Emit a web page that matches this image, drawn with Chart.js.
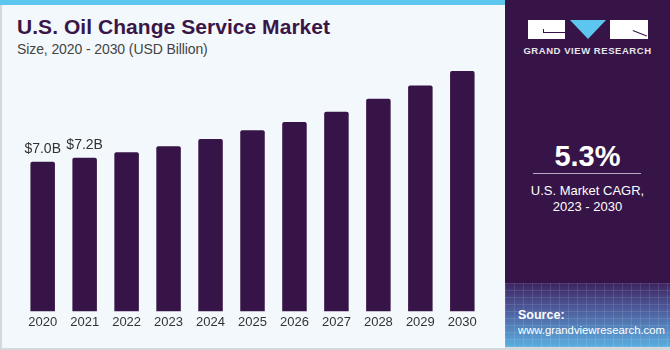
<!DOCTYPE html>
<html>
<head>
<meta charset="utf-8">
<script src="https://cdn.jsdelivr.net/npm/chart.js@4/dist/chart.umd.min.js"></script>
<style>
  html, body { margin:0; padding:0; }
  body { width:670px; height:350px; position:relative; overflow:hidden; background:#f3f8fc; font-family:"Liberation Sans", Arial, sans-serif; }
  #left { position:absolute; left:0; top:0; width:505px; height:350px; background:#f3f8fc; border-left:2px solid #d4d8dc; border-bottom:2px solid #d4d8dc; box-sizing:border-box; }
  #topbar { position:absolute; left:0; top:0; width:505px; height:5px; background:#5cc6ef; }
  #title { position:absolute; left:17px; top:15px; font-size:21px; font-weight:bold; color:#3a1648; white-space:nowrap; letter-spacing:0.05px; }
  #subtitle { position:absolute; left:17px; top:41px; font-size:14px; color:#444; white-space:nowrap; letter-spacing:-0.1px; }
  #chartwrap { position:absolute; left:0; top:0; width:505px; height:350px; }
  #right { position:absolute; left:505px; top:0; width:165px; height:283px; background:#371447; }
  #rbottom { position:absolute; left:505px; top:283px; width:165px; height:64px;
     background:
      repeating-linear-gradient(90deg, rgba(255,255,255,0.10) 0 1px, transparent 1px 9px),
      repeating-linear-gradient(0deg, rgba(255,255,255,0.10) 0 1px, transparent 1px 7px),
      linear-gradient(180deg, #3d2560 0%, #4d5a9a 40%, #5aaee0 100%); }
  #rborder { position:absolute; left:505px; top:347px; width:165px; height:3px; background:#d4d8dc; }
  .blk { position:absolute; background:#fff; }
  #tri { position:absolute; left:570px; top:20px; width:0; height:0; border-left:18.5px solid transparent; border-right:18.5px solid transparent; border-top:19px solid #5cc6ef; }
  #gvr { position:absolute; left:505px; width:165px; top:45px; text-align:center; color:#e8e4ec; font-size:9.5px; font-weight:bold; letter-spacing:0.55px; }
  #cagr { position:absolute; left:505px; width:165px; top:140px; text-align:center; color:#fff; font-size:29px; font-weight:bold; }
  #line { position:absolute; left:533px; width:108px; top:173px; height:1px; background:#b9a9c4; }
  #cagrtxt { position:absolute; left:505px; width:165px; top:183px; text-align:center; color:#fff; font-size:13px; line-height:16px; }
  #src { position:absolute; left:518px; top:308px; color:#fff; font-size:11.3px; line-height:15px; }
</style>
</head>
<body>
<div id="left"></div>
<div id="topbar"></div>
<div id="title">U.S. Oil Change Service Market</div>
<div id="subtitle">Size, 2020 - 2030 (USD Billion)</div>
<div id="chartwrap"><canvas id="c" width="505" height="350"></canvas></div>
<div id="right"></div>
<div id="rbottom"></div>
<div id="rborder"></div>
<!-- logo -->
<div class="blk" style="left:528px;top:20px;width:37px;height:19px;"></div>
<div style="position:absolute;left:543px;top:32px;width:22px;height:1px;background:#371447;"></div>
<div style="position:absolute;left:543px;top:29px;width:1px;height:4px;background:#371447;"></div>
<div id="tri"></div>
<div class="blk" style="left:610px;top:20px;width:38px;height:19px;"></div>
<div style="position:absolute;left:633px;top:30px;width:15px;height:1px;background:#371447;transform:rotate(22deg);transform-origin:0 0;"></div>
<div id="gvr">GRAND VIEW RESEARCH</div>
<div id="cagr">5.3%</div>
<div id="line"></div>
<div id="cagrtxt">U.S. Market CAGR,<br>2023 - 2030</div>
<div id="src"><b style="font-size:12.5px">Source:</b><br>www.grandviewresearch.com</div>

<script>
const years = ["2020","2021","2022","2023","2024","2025","2026","2027","2028","2029","2030"];
const marketSize = [7.0, 7.19, 7.45, 7.73, 8.06, 8.47, 8.86, 9.34, 9.94, 10.57, 11.24];
const valueLabels = ["$7.0B", "$7.2B", "", "", "", "", "", "", "", "", ""];

const labelPlugin = {
  id: 'valueLabels',
  afterDatasetsDraw(chart) {
    const ctx = chart.ctx;
    const meta = chart.getDatasetMeta(0);
    ctx.save();
    ctx.font = '14px "Liberation Sans", Arial, sans-serif';
    ctx.fillStyle = '#333333';
    ctx.textAlign = 'center';
    ctx.textBaseline = 'alphabetic';
    meta.data.forEach((bar, i) => {
      if (valueLabels[i]) ctx.fillText(valueLabels[i], bar.x, bar.y - 9);
    });
    ctx.restore();
  }
};

new Chart(document.getElementById('c'), {
  type: 'bar',
  data: {
    labels: years,
    datasets: [{
      data: marketSize,
      backgroundColor: '#371447',
      borderWidth: 0,
      borderRadius: {topLeft: 2, topRight: 2, bottomLeft: 0, bottomRight: 0},
      borderSkipped: 'bottom',
      categoryPercentage: 1.0,
      barPercentage: 0.584
    }]
  },
  options: {
    responsive: false,
    animation: false,
    devicePixelRatio: 1,
    layout: { padding: { left: 21.7, right: 21.7, top: 54.8, bottom: 16.9 } },
    plugins: { legend: { display: false }, tooltip: { enabled: false } },
    scales: {
      x: {
        grid: { display: false, drawTicks: false },
        border: { display: false },
        ticks: { color: '#333333', font: { family: '"Liberation Sans", Arial, sans-serif', size: 13 }, padding: 3 }
      },
      y: { display: false, min: 0, max: 12 }
    }
  },
  plugins: [labelPlugin]
});
</script>
</body>
</html>
